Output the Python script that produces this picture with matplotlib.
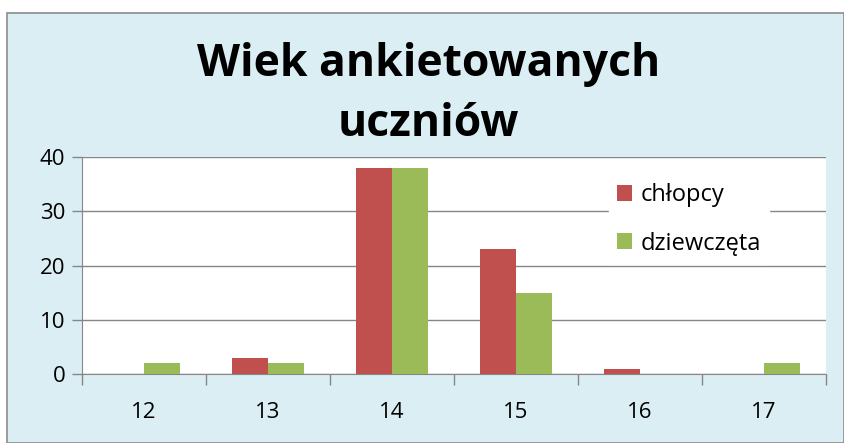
import numpy as np
import matplotlib
matplotlib.use("Agg")
import matplotlib.pyplot as plt
from matplotlib.patches import Rectangle

# Dane z wykresu
wiek = ["12", "13", "14", "15", "16", "17"]
chlopcy = [0, 3, 38, 23, 1, 0]
dziewczeta = [2, 2, 38, 15, 0, 2]
serie = ["chłopcy", "dziewczęta"]

plt.rcParams["font.family"] = ["Open Sans", "DejaVu Sans"]

fig = plt.figure(figsize=(8.44, 4.43), dpi=100)
fig.patch.set_facecolor("white")

# Tło wykresu (obszar wykresu z ramką)
tlo = Rectangle((7 / 844, 0), 1 - 7 / 844, (443 - 13) / 443, transform=fig.transFigure,
                facecolor="#DBEEF4", edgecolor="#8C8C8C", linewidth=1.2, zorder=-10)
fig.patches.append(tlo)

ax = fig.add_axes([82 / 844, 69 / 443, (826 - 82) / 844, (374 - 157) / 443])
ax.set_facecolor("white")

x = np.arange(len(wiek))
szer = 0.29
ax.bar(x - szer / 2, chlopcy, szer, color="#C0504D", label=serie[0], zorder=3)
ax.bar(x + szer / 2, dziewczeta, szer, color="#9BBB59", label=serie[1], zorder=3)

ax.set_xlim(-0.5, len(wiek) - 0.5)
ax.set_ylim(0, 40)
ax.set_yticks([0, 10, 20, 30, 40])
ax.yaxis.grid(True, color="#868686", linewidth=1.0, zorder=0)
ax.set_axisbelow(True)

ax.set_xticks(x)
ax.set_xticklabels(wiek)
ax.set_xticks(np.arange(-0.5, len(wiek)), minor=True)
ax.tick_params(axis="x", which="major", length=0, pad=20, labelsize=16)
ax.tick_params(axis="x", which="minor", length=8, color="#868686", width=1)
ax.tick_params(axis="y", length=7, color="#868686", width=1, labelsize=16, pad=5)

for s in ["top", "right"]:
    ax.spines[s].set_visible(False)
ax.spines["left"].set_color("#868686")
ax.spines["bottom"].set_color("#868686")

leg = ax.legend(loc="upper left", bbox_to_anchor=(0.708, 0.917), fontsize=17,
                frameon=True, fancybox=False, edgecolor="white", framealpha=1,
                handlelength=0.64, handleheight=0.64, handletextpad=0.34,
                labelspacing=1.03, borderpad=0.35, borderaxespad=0)

fig.text(0.508, (443 - 76) / 443, "Wiek ankietowanych", ha="center", va="baseline",
         fontsize=32, fontweight="bold")
fig.text(0.508, (443 - 136) / 443, "uczniów", ha="center", va="baseline",
         fontsize=32, fontweight="bold")

fig.savefig("out.png", dpi=100)
